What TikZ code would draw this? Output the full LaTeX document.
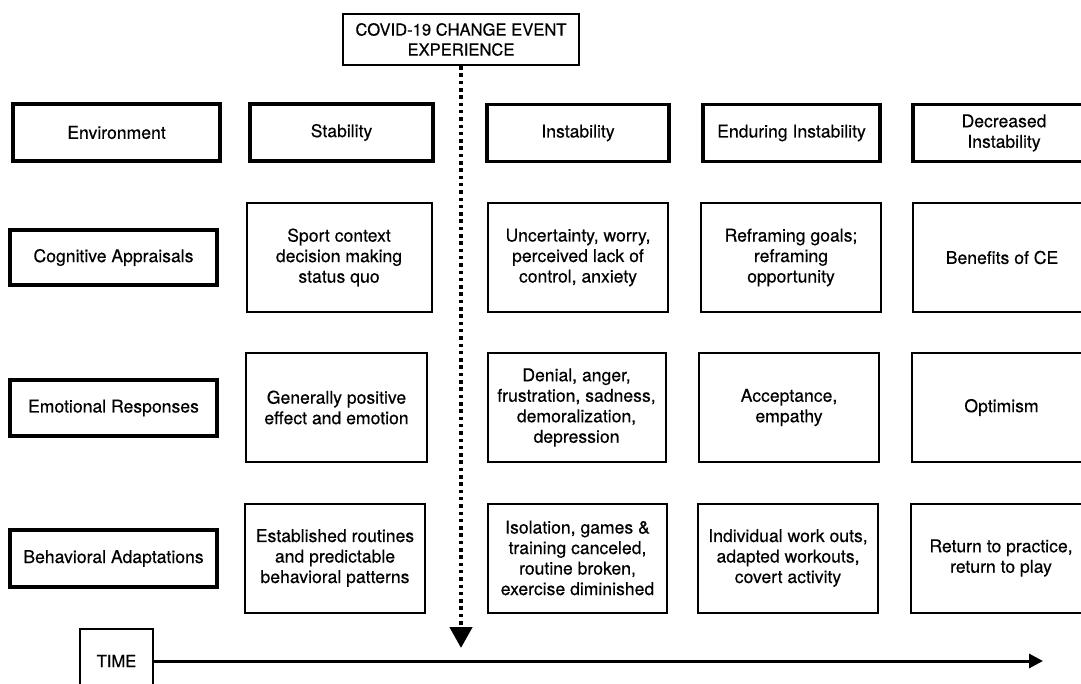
\documentclass[tikz,border=0pt]{standalone}
\usepackage{fontspec}
\setmainfont{TeX Gyre Heros}[FakeBold=0.35]
\usetikzlibrary{arrows.meta}
\begin{document}
\begin{tikzpicture}[x=1pt,y=-1pt,
  txt/.style={font=\fontsize{17.6}{20.5}\selectfont,align=center,inner sep=0pt},
  hdrbox/.style={txt,draw,line width=3.6pt,minimum height=57pt},
  cellbox/.style={txt,draw,line width=2pt,minimum height=109pt},
  topbox/.style={draw,line width=2.4pt,font=\fontsize{16.6}{20}\selectfont,align=center,inner sep=0pt,minimum width=236pt,minimum height=51pt},
  timebox/.style={draw,line width=2.4pt,font=\fontsize{16.6}{20}\selectfont,inner sep=0pt,minimum width=73pt,minimum height=64pt},
  eventline/.style={line width=4.5pt,dash pattern=on 3.5pt off 3.8pt,-{Triangle[length=21pt,width=22pt]}},
  timeline/.style={line width=3pt,-{Triangle[length=14pt,width=14pt]}}
]
\useasboundingbox (0,0) rectangle (1081,684);
\clip (0,0) rectangle (1081,684);

% change event and time axis
\node[topbox] (covid) at (461,39.5) {COVID-19 CHANGE EVENT\\EXPERIENCE};
\node[timebox] (time) at (116.5,661) {TIME};
\coordinate (eventend) at (461,648);
\coordinate (timeend) at (1043,661);

% phase headers
\node[hdrbox,minimum width=207pt] (env) at (116.5,132.5) {Environment};
\node[hdrbox,minimum width=183pt] (stab) at (341.5,132.5) {Stability};
\node[hdrbox,minimum width=182pt] (inst) at (578,133) {Instability};
\node[hdrbox,minimum width=177pt] (endur) at (791.5,133) {Enduring Instability};
\node[hdrbox,minimum width=182pt] (decr) at (1004,133) {Decreased\\Instability};

% row labels
\node[hdrbox,minimum width=207pt,minimum height=55pt] (cog) at (113.5,257.5) {Cognitive Appraisals};
\node[hdrbox,minimum width=207pt,minimum height=56pt] (emo) at (113.5,408) {Emotional Responses};
\node[hdrbox,minimum width=207pt,minimum height=57pt] (beh) at (113.5,558.5) {Behavioral Adaptations};

% cognitive appraisals
\node[cellbox,minimum width=185pt] (cog1) at (339,257.5) {Sport context\\decision making\\status quo};
\node[cellbox,minimum width=180pt] (cog2) at (578,257.5) {Uncertainty, worry,\\perceived lack of\\control, anxiety};
\node[cellbox,minimum width=180pt] (cog3) at (791,257.5) {Reframing goals;\\reframing\\opportunity};
\node[cellbox,minimum width=178pt] (cog4) at (1002,257.5) {Benefits of CE};

% emotional responses
\node[cellbox,minimum width=181pt] (emo1) at (336.5,407.5) {Generally positive\\effect and emotion};
\node[cellbox,minimum width=178pt] (emo2) at (576.5,407.5) {Denial, anger,\\frustration, sadness,\\demoralization,\\depression};
\node[cellbox,minimum width=180pt] (emo3) at (789,407.5) {Acceptance,\\empathy};
\node[cellbox,minimum width=179pt] (emo4) at (1001.5,407.5) {Optimism};

% behavioral adaptations
\node[cellbox,minimum width=180pt] (beh1) at (335,558) {Established routines\\and predictable\\behavioral patterns};
\node[cellbox,minimum width=179pt] (beh2) at (577.5,558) {Isolation, games \&\\training canceled,\\routine broken,\\exercise diminished};
\node[cellbox,minimum width=180pt] (beh3) at (788,558) {Individual work outs,\\adapted workouts,\\covert activity};
\node[cellbox,minimum width=180pt] (beh4) at (1001,558) {Return to practice,\\return to play};

% connectors
\draw[eventline] (covid.south) -- (eventend);
\draw[timeline] (time.east) -- (timeend);
\end{tikzpicture}
\end{document}
